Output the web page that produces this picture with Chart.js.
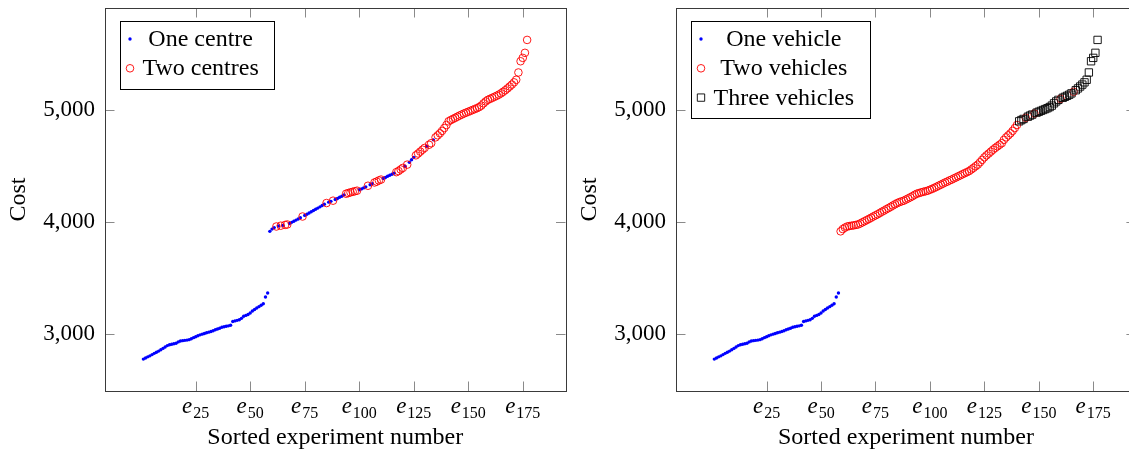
<!DOCTYPE html>
<html><head><meta charset="utf-8">
<script src="https://cdn.jsdelivr.net/npm/chart.js@4"></script>
<style>
html,body{margin:0;padding:0;width:1129px;height:452px;overflow:hidden;background:#fff}
#wrap{position:relative;width:1142px;height:452px}
canvas{position:absolute;top:0}
</style></head><body>
<div id="wrap">
<canvas id="c1" width="571" height="452" style="left:0"></canvas>
<canvas id="c2" width="571" height="452" style="left:571px"></canvas>
</div>
<script>
const FONT = '"Liberation Serif", "Times New Roman", serif';

// cost of each experiment, sorted (experiment e1 .. e177)
const sortedCost = [
  2777, 2787, 2797, 2806, 2817, 2828, 2838, 2848, 2860, 2872,
  2885, 2897, 2905, 2909, 2913, 2918, 2930, 2938, 2941, 2944,
  2946, 2950, 2958, 2968, 2976, 2985, 2993, 2999, 3005, 3011,
  3017, 3023, 3030, 3038, 3045, 3052, 3060, 3065, 3069, 3073,
  3078, 3112, 3117, 3122, 3128, 3140, 3158, 3166, 3174, 3188,
  3205, 3218, 3232, 3244, 3256, 3270, 3330, 3366,
  3915, 3935, 3948, 3958, 3962, 3965, 3968, 3972, 3976, 3985,
  3995, 4005, 4015, 4025, 4036, 4047, 4057, 4067, 4078, 4090,
  4100, 4112, 4122, 4133, 4145, 4156, 4167, 4175, 4182, 4188,
  4198, 4208, 4218, 4228, 4240, 4250, 4256, 4262, 4267, 4272,
  4277, 4285, 4293, 4302, 4311, 4321, 4330, 4340, 4350, 4358,
  4368, 4376, 4386, 4395, 4405, 4414, 4424, 4433, 4442, 4452,
  4466, 4480, 4495, 4509, 4530, 4552, 4574, 4592, 4608, 4625,
  4642, 4658, 4672, 4686, 4700, 4730, 4752, 4770, 4788, 4810,
  4835, 4862, 4895, 4906, 4916, 4926, 4936, 4946, 4955, 4964,
  4972, 4980, 4988, 4996, 5004, 5012, 5022, 5035, 5055, 5072,
  5086, 5095, 5104, 5113, 5122, 5132, 5144, 5158, 5172, 5188,
  5205, 5222, 5242, 5265, 5330, 5430, 5460, 5505, 5620
];

// experiments solved with two centres (all others: one centre)
const twoCentres = [62, 64, 66, 67, 74, 85, 88, 94, 95, 96, 97, 98, 99, 104, 107, 108, 109, 110,
  117, 118, 119, 120, 122, 126, 127, 128, 129, 130, 132, 133,
  135, 136, 137, 138, 139, 140, 141, 142, 143, 144, 145, 146, 147, 148, 149, 150,
  151, 152, 153, 154, 155, 156, 157, 158, 159, 160, 161, 162, 163, 164, 165,
  166, 167, 168, 169, 170, 171, 172, 173, 174, 175, 176, 177];

// vehicles: e1..e58 one vehicle; listed ones three vehicles; rest two vehicles
const oneVehicleLast = 58;
const threeVehicles = [141, 142, 143, 145, 146, 147, 149, 150, 151, 152, 153, 154, 155, 156, 157, 158, 159,
  161, 162, 163, 164, 165, 167, 168, 169, 170, 171, 172, 173, 174, 175, 176, 177];

const xTickValues = [25, 50, 75, 100, 125, 150, 175];
const yTickValues = [3000, 4000, 5000];

const xLabel = 'Sorted experiment number';
const yLabel = 'Cost';

const experiments = sortedCost.map((_, i) => i + 1);
const toPoints = list => list.map(e => ({x: e, y: sortedCost[e - 1]}));

const styles = {
  dot:    {pointStyle: 'circle', pointRadius: 1.7, backgroundColor: '#0000ff', borderColor: '#0000ff', borderWidth: 0},
  circle: {pointStyle: 'circle', pointRadius: 3.8, backgroundColor: 'rgba(0,0,0,0)', borderColor: '#ff0000', borderWidth: 0.9},
  square: {pointStyle: 'rect', pointRadius: 5.2, backgroundColor: 'rgba(0,0,0,0)', borderColor: '#000000', borderWidth: 0.9}
};

function ds(label, list, style, order) {
  return {
    label, data: toPoints(list), showLine: false, order,
    pointStyle: style.pointStyle, pointRadius: style.pointRadius, pointHoverRadius: style.pointRadius,
    pointBackgroundColor: style.backgroundColor, pointBorderColor: style.borderColor,
    pointBorderWidth: style.borderWidth, backgroundColor: style.backgroundColor, borderColor: style.borderColor,
    _style: style
  };
}

const xMin = Math.min(...experiments), xMax = Math.max(...experiments);
const yMin = Math.min(...sortedCost), yMax = Math.max(...sortedCost);
const xPad = 0.1 * (xMax - xMin), yPad = 0.1 * (yMax - yMin);

function drawMarker(ctx, st, x, y) {
  ctx.save();
  ctx.lineWidth = st.borderWidth;
  ctx.strokeStyle = st.borderColor;
  ctx.fillStyle = st.backgroundColor;
  ctx.beginPath();
  if (st.pointStyle === 'rect') {
    const s = Math.SQRT1_2 * st.pointRadius;
    ctx.rect(x - s, y - s, 2 * s, 2 * s);
  } else {
    ctx.arc(x, y, st.pointRadius, 0, Math.PI * 2);
  }
  ctx.fill();
  if (st.borderWidth > 0) ctx.stroke();
  ctx.restore();
}

const framePlugin = {
  id: 'frame',
  afterDraw(chart) {
    const ctx = chart.ctx, a = chart.chartArea, xs = chart.scales.x, ys = chart.scales.y;
    ctx.save();
    const TL = 9.5;
    ctx.strokeStyle = '#8a8a8a'; ctx.lineWidth = 1;
    ctx.beginPath();
    xTickValues.forEach(v => {
      const px = Math.round(xs.getPixelForValue(v)) + 0.5;
      ctx.moveTo(px, a.bottom); ctx.lineTo(px, a.bottom - TL);
      ctx.moveTo(px, a.top); ctx.lineTo(px, a.top + TL);
    });
    yTickValues.forEach(v => {
      const py = Math.round(ys.getPixelForValue(v)) + 0.5;
      ctx.moveTo(a.left, py); ctx.lineTo(a.left + TL, py);
      ctx.moveTo(a.right, py); ctx.lineTo(a.right - TL, py);
    });
    ctx.stroke();
    ctx.strokeStyle = '#3a3a3a'; ctx.lineWidth = 1;
    const L = Math.round(a.left) + 0.5, T = Math.round(a.top) + 0.5;
    ctx.strokeRect(L, T, Math.round(a.right) - Math.round(a.left), Math.round(a.bottom) - Math.round(a.top));

    // x tick labels: italic e with subscript number
    ctx.fillStyle = '#000'; ctx.textBaseline = 'alphabetic'; ctx.textAlign = 'left';
    xTickValues.forEach(v => {
      const px = xs.getPixelForValue(v);
      ctx.font = 'italic 23px ' + FONT; const we = ctx.measureText('e').width;
      ctx.font = '16px ' + FONT; const wn = ctx.measureText(String(v)).width;
      const x0 = px - (we + wn + 1) / 2;
      ctx.font = 'italic 23px ' + FONT; ctx.fillText('e', x0, 413);
      ctx.font = '16px ' + FONT; ctx.fillText(String(v), x0 + we + 1, 418);
    });

    // legend
    const items = chart.data.datasets;
    ctx.font = '24px ' + FONT;
    const W = Math.max(...items.map(d => ctx.measureText(d.label).width));
    const bx = a.left + 14.5, by = a.top + 12.5;
    const bw = 23 + W + 15, bh = 25.5 + (items.length - 1) * 29.3 + 13;
    ctx.fillStyle = '#fff';
    ctx.fillRect(bx, by, bw, bh);
    ctx.strokeStyle = '#000'; ctx.lineWidth = 1;
    ctx.strokeRect(Math.round(bx) + 0.5, Math.round(by) + 0.5, Math.round(bw), Math.round(bh));
    items.forEach((d, k) => {
      const base = by + 25.5 + k * 29.3;
      drawMarker(ctx, d._style, bx + 10.5, base - 7);
      ctx.fillStyle = '#000'; ctx.textAlign = 'center';
      ctx.font = '24px ' + FONT;
      ctx.fillText(d.label, bx + 23 + W / 2, base);
    });
    ctx.restore();
  }
};

function makeChart(id, datasets) {
  return new Chart(document.getElementById(id), {
    type: 'scatter',
    data: {datasets},
    plugins: [framePlugin],
    options: {
      responsive: false, animation: false, devicePixelRatio: 1,
      layout: {padding: {top: 8, right: 5.5, left: 0, bottom: 0}},
      plugins: {legend: {display: false}, tooltip: {enabled: false}},
      scales: {
        x: {
          type: 'linear', min: xMin - xPad, max: xMax + xPad,
          grid: {display: false, drawTicks: false}, border: {display: false},
          ticks: {display: false},
          afterBuildTicks: s => { s.ticks = xTickValues.map(v => ({value: v})); },
          afterFit: s => { s.height = 61; s.paddingLeft = 0; s.paddingRight = 0; },
          title: {display: true, text: xLabel, color: '#000', font: {family: FONT, size: 24}, padding: {top: 0, bottom: 0}}
        },
        y: {
          type: 'linear', min: yMin - yPad, max: yMax + yPad,
          grid: {display: false, drawTicks: false}, border: {display: false},
          ticks: {color: '#000', font: {family: FONT, size: 23}, padding: 10,
                  callback: v => Number(v).toLocaleString('en-US')},
          afterBuildTicks: s => { s.ticks = yTickValues.map(v => ({value: v})); },
          afterFit: s => { s.width = 105; s.paddingTop = 0; s.paddingBottom = 0; },
          title: {display: true, text: yLabel, color: '#000', font: {family: FONT, size: 24}, padding: {top: 4, bottom: 0}}
        }
      }
    }
  });
}

const twoSet = new Set(twoCentres);
const threeSet = new Set(threeVehicles);

makeChart('c1', [
  ds('One centre', experiments.filter(e => !twoSet.has(e)), styles.dot, 3),
  ds('Two centres', twoCentres, styles.circle, 2)
]);

makeChart('c2', [
  ds('One vehicle', experiments.filter(e => e <= oneVehicleLast), styles.dot, 3),
  ds('Two vehicles', experiments.filter(e => e > oneVehicleLast && !threeSet.has(e)), styles.circle, 2),
  ds('Three vehicles', threeVehicles, styles.square, 1)
]);
</script>
</body></html>
